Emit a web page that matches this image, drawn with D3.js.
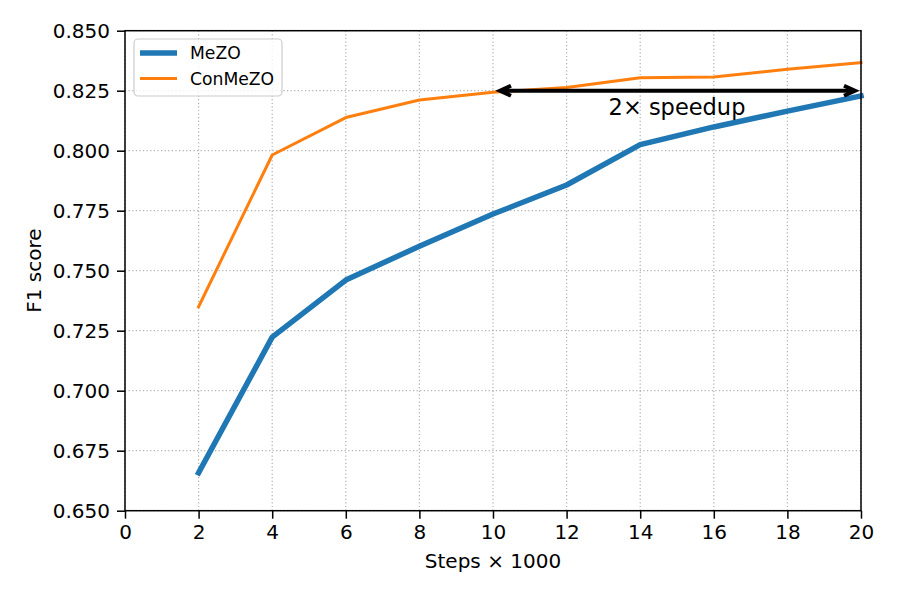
<!DOCTYPE html>
<html>
<head>
<meta charset="utf-8">
<script src="https://cdn.jsdelivr.net/npm/d3@7"></script>
<style>
  html, body { margin: 0; padding: 0; background: #fff; }
  svg { display: block; font-family: "DejaVu Sans", sans-serif; }
</style>
</head>
<body>
<svg id="chart" width="897" height="598"></svg>
<script>
const steps = [2, 4, 6, 8, 10, 12, 14, 16, 18, 20];
const mezo = [0.6658, 0.7223, 0.7461, 0.7602, 0.7736, 0.7857, 0.8025, 0.8099, 0.8165, 0.8228];
const conmezo = [0.7350, 0.7982, 0.8138, 0.8211, 0.8244, 0.8263, 0.8304, 0.8307, 0.8339, 0.8367];
const xTicks = [0, 2, 4, 6, 8, 10, 12, 14, 16, 18, 20];
const yTicks = [0.650, 0.675, 0.700, 0.725, 0.750, 0.775, 0.800, 0.825, 0.850];
const seriesNames = ["MeZO", "ConMeZO"];
const arrowFrom = 10, arrowTo = 20, arrowY = 0.825;
const annotText = "2\u00d7 speedup";

const svg = d3.select("#chart");
const m = { left: 125, right: 861, top: 30.7, bottom: 510.7 };
const x = d3.scaleLinear().domain([0, 20]).range([m.left, m.right]);
const y = d3.scaleLinear().domain([0.65, 0.85]).range([m.bottom, m.top]);

// grid
const grid = svg.append("g");
grid.selectAll(".gx").data(xTicks).enter().append("line")
  .attr("x1", d => x(d)).attr("x2", d => x(d)).attr("y1", m.top).attr("y2", m.bottom)
  .attr("stroke", "#b0b0b0").attr("stroke-width", 1.2).attr("stroke-dasharray", "1.2,2.4");
grid.selectAll(".gy").data(yTicks).enter().append("line")
  .attr("y1", d => y(d)).attr("y2", d => y(d)).attr("x1", m.left).attr("x2", m.right)
  .attr("stroke", "#b0b0b0").attr("stroke-width", 1.2).attr("stroke-dasharray", "1.2,2.4");

// lines
const line = vals => d3.line().x((d, i) => x(steps[i])).y(d => y(d))(vals);
svg.append("path").attr("d", line(mezo)).attr("fill", "none")
  .attr("stroke", "#1f77b4").attr("stroke-width", 5.5).attr("stroke-linejoin", "round").attr("stroke-linecap", "square");
svg.append("path").attr("d", line(conmezo)).attr("fill", "none")
  .attr("stroke", "#ff7f0e").attr("stroke-width", 3).attr("stroke-linejoin", "round").attr("stroke-linecap", "square");

// arrow
const ax1 = x(arrowFrom) + 6, ax2 = x(arrowTo) - 5, ay = y(arrowY);
const arr = svg.append("g").attr("stroke", "#000").attr("stroke-width", 4).attr("fill", "none");
arr.append("line").attr("x1", ax1 + 2).attr("x2", ax2 - 2).attr("y1", ay).attr("y2", ay);
arr.append("path").attr("d", `M${ax1 + 12},${ay - 5} L${ax1 + 1},${ay} L${ax1 + 12},${ay + 5}`)
  .attr("stroke-linejoin", "miter");
arr.append("path").attr("d", `M${ax2 - 12},${ay - 5} L${ax2 - 1},${ay} L${ax2 - 12},${ay + 5}`)
  .attr("stroke-linejoin", "miter");
svg.append("text").attr("x", x(15)).attr("y", 115).attr("text-anchor", "middle")
  .attr("font-size", 22.5).attr("fill", "#000").text(annotText);

// axes
const xAxis = d3.axisBottom(x).tickValues(xTicks).tickFormat(d3.format("d")).tickSize(8).tickPadding(6);
const yAxis = d3.axisLeft(y).tickValues(yTicks).tickFormat(d3.format(".3f")).tickSize(8).tickPadding(7);
const gx = svg.append("g").attr("transform", `translate(0,${m.bottom})`).call(xAxis);
const gy = svg.append("g").attr("transform", `translate(${m.left},0)`).call(yAxis);
[gx, gy].forEach(g => {
  g.select(".domain").remove();
  g.selectAll(".tick line").attr("stroke", "#000").attr("stroke-width", 1.5);
  g.selectAll(".tick text").attr("font-size", 20).attr("fill", "#000").attr("font-family", "DejaVu Sans");
});
gx.selectAll(".tick text").attr("dy", "0.71em");
svg.append("rect").attr("x", m.left).attr("y", m.top).attr("width", m.right - m.left)
  .attr("height", m.bottom - m.top).attr("fill", "none").attr("stroke", "#000").attr("stroke-width", 1.5);

// labels
svg.append("text").attr("x", (m.left + m.right) / 2).attr("y", 568).attr("text-anchor", "middle")
  .attr("font-size", 20).text("Steps \u00d7 1000");
svg.append("text").attr("transform", `translate(41,${(m.top + m.bottom) / 2}) rotate(-90)`)
  .attr("text-anchor", "middle").attr("font-size", 20).text("F1 score");

// legend
const lg = svg.append("g");
lg.append("rect").attr("x", 134).attr("y", 39).attr("width", 148).attr("height", 57).attr("rx", 4)
  .attr("fill", "#fff").attr("fill-opacity", 0.8).attr("stroke", "#cccccc").attr("stroke-width", 1.2);
const colors = ["#1f77b4", "#ff7f0e"], widths = [5.5, 3];
seriesNames.forEach((n, i) => {
  const yy = 53 + i * 25.5;
  lg.append("line").attr("x1", 140).attr("x2", 177).attr("y1", yy).attr("y2", yy)
    .attr("stroke", colors[i]).attr("stroke-width", widths[i]);
  lg.append("text").attr("x", 190).attr("y", yy + 6).attr("font-size", 17.2).text(n);
});
</script>
</body>
</html>
